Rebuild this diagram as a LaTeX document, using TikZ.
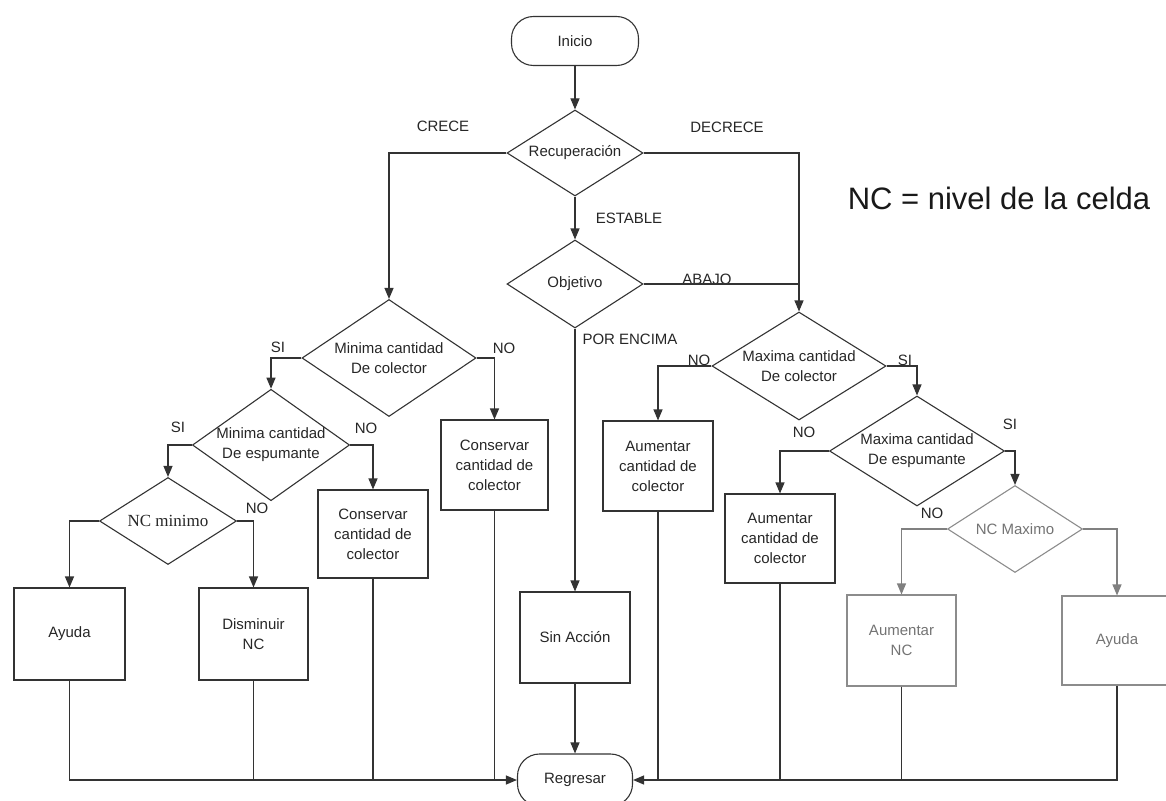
\documentclass[tikz,border=0pt]{standalone}
\usepackage{fontspec}
\setmainfont{Liberation Sans}
\newfontfamily\serifnc{Liberation Serif}
\usetikzlibrary{shapes.geometric,arrows.meta}
\begin{document}
\begin{tikzpicture}[x=1pt,y=-1pt,
  every node/.style={font=\fontsize{15}{20}\selectfont, text=black!85},
  line/.style={draw=black!80, line width=1.1pt},
  arr/.style={line, -{Triangle[length=11pt,width=9pt]}},
  proc/.style={draw=black!80, line width=1.1pt, rectangle, inner sep=0pt, align=center},
  term/.style={draw=black!80, line width=1.1pt, rectangle, rounded corners=22pt, inner sep=0pt},
  dec/.style={draw=black!80, line width=1.1pt, diamond, inner sep=0pt, align=center},
  lbl/.style={inner sep=0pt},
  faded/.style={draw=black!45, text=black!55},
  fline/.style={draw=black!50}
]
\useasboundingbox (0,0) rectangle (1166,800);

% terminals
\node[term, minimum width=127pt, minimum height=49pt] (inicio) at (575,41) {Inicio};
\node[term, minimum width=115pt, minimum height=52pt] (reg) at (575,780) {Regresar};

% decisions
\node[dec, minimum width=136pt, minimum height=86pt, aspect=1.58] (rec) at (575,153) {Recuperación};
\node[dec, minimum width=136pt, minimum height=88pt, aspect=1.55] (obj) at (575,284) {Objetivo};
\node[dec, minimum width=174pt, minimum height=117pt, aspect=1.49] (minc) at (389,358) {Minima cantidad\\De colector};
\node[dec, minimum width=155pt, minimum height=110pt, aspect=1.41] (mine) at (271,445) {Minima cantidad\\De espumante};
\node[dec, minimum width=137pt, minimum height=87pt, aspect=1.57, font={\serifnc\fontsize{17}{20}\selectfont}] (ncmin) at (168,521) {NC minimo};
\node[dec, minimum width=174pt, minimum height=108pt, aspect=1.61] (maxc) at (799,366) {Maxima cantidad\\De colector};
\node[dec, minimum width=175pt, minimum height=110pt, aspect=1.59] (maxe) at (917,451) {Maxima cantidad\\De espumante};
\node[dec, faded, minimum width=135pt, minimum height=87pt, aspect=1.55] (ncmax) at (1015,529) {NC Maximo};

% actions
\node[proc, minimum width=107pt, minimum height=90pt] (cons1) at (494.5,465) {Conservar\\cantidad de\\colector};
\node[proc, minimum width=110pt, minimum height=88pt] (cons2) at (373,534) {Conservar\\cantidad de\\colector};
\node[proc, minimum width=111pt, minimum height=92pt] (ayudaL) at (69.5,634) {Ayuda};
\node[proc, minimum width=109pt, minimum height=92pt] (dism) at (253.5,634) {Disminuir\\NC};
\node[proc, minimum width=110pt, minimum height=91pt] (sin) at (575,637.5) {Sin Acción};
\node[proc, minimum width=110pt, minimum height=90pt] (aum1) at (658,466) {Aumentar\\cantidad de\\colector};
\node[proc, minimum width=110pt, minimum height=89pt] (aum2) at (780,538.5) {Aumentar\\cantidad de\\colector};
\node[proc, faded, minimum width=109pt, minimum height=91pt] (aumnc) at (901.5,640.5) {Aumentar\\NC};
\node[proc, faded, minimum width=110pt, minimum height=89pt] (ayudaR) at (1117,640.5) {Ayuda};

% branch labels
\node[lbl] (tCrece) at (443,126) {CRECE};
\node[lbl] (tDecrece) at (727,127) {DECRECE};
\node[lbl] (tEstable) at (629,218) {ESTABLE};
\node[lbl] (tAbajo) at (707,279) {ABAJO};
\node[lbl] (tEncima) at (630,339) {POR ENCIMA};
\node[lbl] (tSi1) at (278,347) {SI};
\node[lbl] (tNo1) at (504,348) {NO};
\node[lbl] (tSi2) at (178,427) {SI};
\node[lbl] (tNo2) at (366,428) {NO};
\node[lbl] (tNo3) at (257,508) {NO};
\node[lbl] (tNo4) at (699,360) {NO};
\node[lbl] (tSi4) at (905,360) {SI};
\node[lbl] (tNo5) at (804,432) {NO};
\node[lbl] (tSi5) at (1010,424) {SI};
\node[lbl] (tNo6) at (932,513) {NO};

% legend
\node[lbl, font=\fontsize{31}{36}\selectfont, text=black!90] (nota) at (999,198) {NC = nivel de la celda};

% connectors
\draw[arr] (inicio) -- (rec);
\draw[arr] (rec.west) -| (minc.north);
\draw[arr] (rec.east) -| (maxc.north);
\draw[arr] (rec.south) -- (obj.north);
\draw[line] (obj.east) -- (obj.east -| maxc.north);
\draw[arr] (obj.south) -- (sin.north);

\draw[arr] (minc.west) -| (mine.north);
\draw[arr] (minc.east) -| (cons1.north);
\draw[arr] (mine.west) -| (ncmin.north);
\draw[arr] (mine.east) -| (cons2.north);
\draw[arr] (ncmin.west) -| (ayudaL.north);
\draw[arr] (ncmin.east) -| (dism.north);

\draw[arr] (maxc.west) -| (aum1.north);
\draw[arr] (maxc.east) -| (maxe.north);
\draw[arr] (maxe.west) -| (aum2.north);
\draw[arr] (maxe.east) -| (ncmax.north);
\draw[arr, fline] (ncmax.west) -| (aumnc.north);
\draw[arr, fline] (ncmax.east) -| (ayudaR.north);

% return paths
\draw[arr] (sin.south) -- (reg.north);
\draw[arr] (ayudaL.south) |- (reg.west);
\draw[line] (dism.south) -- (dism.south |- reg.west);
\draw[line] (cons2.south) -- (cons2.south |- reg.west);
\draw[line] (cons1.south) -- (cons1.south |- reg.west);
\draw[arr] (ayudaR.south) |- (reg.east);
\draw[line] (aumnc.south) -- (aumnc.south |- reg.east);
\draw[line] (aum2.south) -- (aum2.south |- reg.east);
\draw[line] (aum1.south) -- (aum1.south |- reg.east);
\end{tikzpicture}
\end{document}
